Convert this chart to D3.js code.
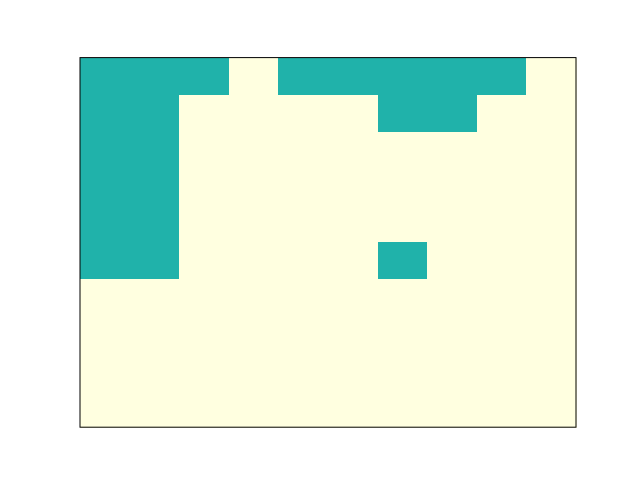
<!DOCTYPE html>
<html><head><meta charset="utf-8">
<script src="https://cdn.jsdelivr.net/npm/d3@7"></script>
<style>body{margin:0;background:#fff}</style>
</head><body>
<svg id="c" width="640" height="480"></svg>
<script>
const rows = [0,1,2,3,4,5,6,7,8,9];
const cols = [0,1,2,3,4,5,6,7,8,9];
const grid = [
  [1,1,1,0,1,1,1,1,1,0],
  [1,1,0,0,0,0,1,1,0,0],
  [1,1,0,0,0,0,0,0,0,0],
  [1,1,0,0,0,0,0,0,0,0],
  [1,1,0,0,0,0,0,0,0,0],
  [1,1,0,0,0,0,1,0,0,0],
  [0,0,0,0,0,0,0,0,0,0],
  [0,0,0,0,0,0,0,0,0,0],
  [0,0,0,0,0,0,0,0,0,0],
  [0,0,0,0,0,0,0,0,0,0]
];
const colors = ["#FFFFE0", "#20B2AA"];

const L = 80, R = 576, T = 57.6, B = 427.2;
const svg = d3.select("#c");
const x = d3.scaleBand().domain(cols).range([L, R]).padding(0);
const y = d3.scaleBand().domain(rows).range([T, B]).padding(0);
const color = d3.scaleOrdinal().domain([0,1]).range(colors);

const cells = [];
grid.forEach((r, i) => r.forEach((v, j) => cells.push({r: i, c: j, v})));
svg.append("g").selectAll("rect").data(cells).join("rect")
  .attr("x", d => x(d.c)).attr("y", d => y(d.r))
  .attr("width", x.bandwidth() + 0.5).attr("height", y.bandwidth() + 0.5)
  .attr("fill", d => color(d.v))
  .attr("shape-rendering", "crispEdges");
svg.append("rect").attr("x", L).attr("y", T).attr("width", R - L).attr("height", B - T)
  .attr("fill", "none").attr("stroke", "#000").attr("stroke-width", 1);
</script>
</body></html>
